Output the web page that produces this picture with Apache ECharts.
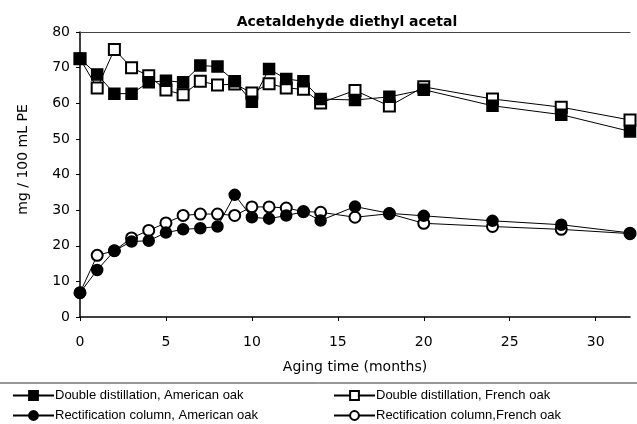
<!DOCTYPE html>
<html>
<head>
<meta charset="utf-8">
<script src="https://cdn.jsdelivr.net/npm/echarts@6/dist/echarts.min.js"></script>
<style>
  html, body { margin: 0; padding: 0; background: #fff; }
  #chart { width: 637px; height: 424px; }
</style>
</head>
<body>
<div id="chart"></div>
<script>
// aging time in months
const months = [0, 1, 2, 3, 4, 5, 6, 7, 8, 9, 10, 11, 12, 13, 14, 16, 18, 20, 24, 28, 32];

const ddAmerican = [72.5, 68.1, 62.7, 62.7, 65.9, 66.3, 65.9, 70.6, 70.3, 66.2, 60.4, 69.6, 66.8, 66.2, 61.2, 60.9, 61.8, 63.8, 59.3, 56.8, 52.1];
const ddFrench   = [72.5, 64.3, 75.1, 70.0, 67.7, 63.7, 62.4, 66.2, 65.1, 65.4, 62.9, 65.5, 64.3, 63.9, 60.1, 63.6, 59.2, 64.6, 61.2, 58.9, 55.3];
const rcAmerican = [6.8, 13.2, 18.6, 21.2, 21.4, 23.7, 24.6, 24.9, 25.4, 34.3, 28.0, 27.6, 28.5, 29.5, 27.1, 31.0, 29.1, 28.4, 27.0, 25.9, 23.6];
const rcFrench   = [6.8, 17.3, 18.6, 22.2, 24.3, 26.4, 28.5, 28.9, 28.9, 28.5, 30.9, 30.9, 30.6, 29.6, 29.4, 28.0, 29.0, 26.3, 25.4, 24.6, 23.4];

const names = [
  'Double distillation, American oak',
  'Double distillation, French oak',
  'Rectification column, American oak',
  'Rectification column,French oak'
];

const FONT = 'Liberation Sans, Arial, sans-serif';
const WIDE = 'DejaVu Sans, sans-serif';

function pairs(vals) {
  return months.map((m, i) => [m, vals[i]]);
}

function makeSeries(name, vals, symbol) {
  return {
    name: name,
    type: 'line',
    data: pairs(vals),
    symbol: symbol,
    symbolSize: 11,
    showAllSymbol: true,
    lineStyle: { color: '#000', width: 1 },
    itemStyle: { color: '#000', borderColor: '#000', borderWidth: 1.5 },
    emphasis: { disabled: true },
    animation: false
  };
}

function legendAt(name, left, top) {
  return {
    left: left,
    top: top,
    data: [name],
    itemWidth: 41,
    itemHeight: 11,
    padding: 0,
    textStyle: { fontFamily: FONT, fontSize: 13, color: '#000', padding: [0, 0, 0, -4] },
    selectedMode: false
  };
}

const chart = echarts.init(document.getElementById('chart'));

chart.setOption({
  backgroundColor: '#fff',
  title: {
    text: 'Acetaldehyde diethyl acetal',
    left: 342,
    textAlign: 'center',
    top: 10,
    textStyle: { fontFamily: WIDE, fontSize: 14, fontWeight: 'bold', color: '#000' }
  },
  grid: { left: 80, right: 7, top: 32, bottom: 107 },
  xAxis: [{
    type: 'value',
    min: 0,
    max: 32,
    interval: 5,
    name: 'Aging time (months)',
    nameLocation: 'middle',
    nameGap: 43,
    nameTextStyle: { fontFamily: WIDE, fontSize: 14, color: '#000' },
    axisLine: { lineStyle: { color: '#000', width: 1.5 } },
    axisTick: { show: true, length: 4, lineStyle: { color: '#000' } },
    axisLabel: { fontFamily: WIDE, fontSize: 14, color: '#000', margin: 18, showMaxLabel: false },
    splitLine: { show: false }
  }, {
    // top frame line of the plot
    type: 'value',
    position: 'top',
    min: 0,
    max: 32,
    axisLine: { show: true, onZero: false, lineStyle: { color: '#444', width: 1 } },
    axisTick: { show: false },
    axisLabel: { show: false },
    splitLine: { show: false }
  }],
  yAxis: {
    type: 'value',
    min: 0,
    max: 80,
    interval: 10,
    name: 'mg / 100 mL PE',
    nameLocation: 'middle',
    nameGap: 50,
    nameTextStyle: { fontFamily: WIDE, fontSize: 14, color: '#000', padding: [0, 0, 0, 30] },
    axisLine: { show: true, lineStyle: { color: '#000', width: 1.5 } },
    axisTick: { show: true, length: 4, lineStyle: { color: '#000' } },
    axisLabel: { fontFamily: WIDE, fontSize: 14, color: '#000', margin: 10 },
    splitLine: { show: false }
  },
  legend: [
    legendAt(names[0], 12, 389),
    legendAt(names[2], 12, 409),
    legendAt(names[1], 333, 389),
    legendAt(names[3], 333, 409)
  ],
  graphic: [{
    type: 'line',
    shape: { x1: 0, y1: 383, x2: 637, y2: 383 },
    style: { stroke: '#333', lineWidth: 1 }
  }],
  series: [
    makeSeries(names[1], ddFrench, 'emptyRect'),
    makeSeries(names[0], ddAmerican, 'rect'),
    makeSeries(names[3], rcFrench, 'emptyCircle'),
    makeSeries(names[2], rcAmerican, 'circle')
  ]
});
</script>
</body>
</html>
